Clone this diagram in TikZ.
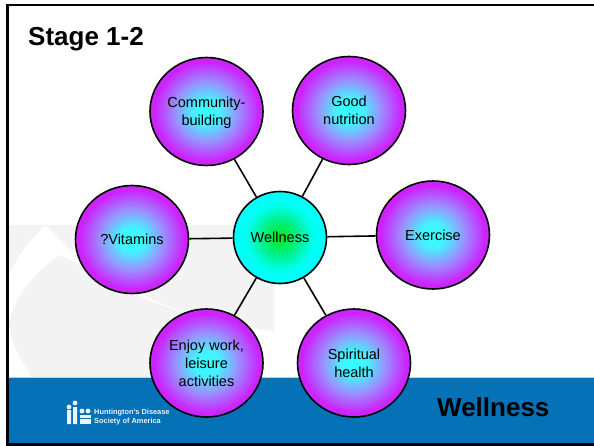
\documentclass[tikz,border=0pt]{standalone}
\usepackage{fontspec}
\setmainfont{Liberation Sans}
\usetikzlibrary{
	shapes.geometric
}
\definecolor{bandblue}{RGB}{5,113,182}
\definecolor{wmgray}{RGB}{243,243,243}
\definecolor{topicA}{RGB}{50,255,255}
\definecolor{topicB}{RGB}{70,240,255}
\definecolor{topicC}{RGB}{150,150,255}
\definecolor{topicD}{RGB}{205,35,255}
\definecolor{hubA}{RGB}{0,235,20}
\definecolor{hubB}{RGB}{0,240,130}
\definecolor{hubC}{RGB}{0,255,240}
\definecolor{hubD}{RGB}{0,255,255}
\pgfdeclareradialshading{topicball}{\pgfpoint{0bp}{0bp}}{
	color(0bp)=(topicA);
	color(6bp)=(topicB);
	color(13.5bp)=(topicC);
	color(23bp)=(topicD);
	color(50bp)=(topicD)
}
\pgfdeclareradialshading{hubball}{\pgfpoint{0bp}{0bp}}{
	color(0bp)=(hubA);
	color(9bp)=(hubB);
	color(18bp)=(hubC);
	color(25bp)=(hubD);
	color(50bp)=(hubD)
}
\tikzset{
	topic/.style={
		ellipse,
		draw=black,
		line width=1.6pt,
		shading=topicball,
		minimum width=113pt,
		minimum height=108pt,
		inner sep=0pt,
		align=center,
		text depth=0pt,
		font=\fontsize{14.5}{17.8}\selectfont
	},
	hub/.style={
		topic,
		shading=hubball,
		minimum width=93pt,
		minimum height=92pt
	},
	spoke/.style={
		line width=1.6pt
	},
	heading/.style={
		font=\fontsize{26}{30}\selectfont\bfseries
	},
	logopart/.style={
		fill=white!92!bandblue
	}
}

\begin{document}
\begin{tikzpicture}[x=1pt,y=-1pt] %%%%% WELLNESS SLIDE
	\useasboundingbox (0,0) rectangle (594,446);
	% watermark
	\fill [wmgray] (9,225) -- (274,225) -- (274,332) -- (205,318) -- (180,377) -- (32,377) .. controls (14,350) and (9,335) .. (9,320) -- cycle;
	\fill [white] (45,225) -- (67,247) -- (155,301) -- (200,318) -- (150,301) -- (60,255) .. controls (30,275) and (14,300) .. (9,322) -- (9,275) .. controls (18,255) and (30,240) .. (45,225) -- cycle;
	% band
	\fill [bandblue] (7,377) rectangle (594,444);
	\draw [white!70!bandblue, line width=.8pt] (7,377) -- (594,377);
	% frame
	\draw [line width=2.6pt] (594,5) -- (7.5,5) -- (7.5,444.5) -- (594,444.5);
	% logo
	\fill [logopart] (69,407) circle (2.4) (75,403) circle (2.4) (82,411) circle (2.4) (88,411) circle (2.4);
	\fill [logopart] (67,410) rectangle (71,424) (73,407) rectangle (77,424);
	\foreach \ly in {415,418.5,421}{
		\fill [logopart] (79.5,\ly) rectangle (90.5,\ly+2.6);
	}
	\node [text=white!92!bandblue, anchor=west, align=left, inner sep=0pt, font=\fontsize{7.4}{9}\selectfont\bfseries] (logotext) at (94,417.5) {Huntington's Disease\\Society of America};
	% circles
	\node [hub] (wellness) at (280,237.5) {Wellness};
	\node [topic] (community) at (206.5,111.5) {Community-\\building};
	\node [topic] (nutrition) at (349,110.5) {Good\\nutrition};
	\node [topic] (exercise) at (433,235) {Exercise};
	\node [topic] (spiritual) at (354,363) {Spiritual\\health};
	\node [topic] (enjoy) at (206.5,363) {Enjoy work,\\leisure\\activities};
	\node [topic] (vitamins) at (132,239.5) {?Vitamins};
	\foreach \topicname in {community,nutrition,exercise,spiritual,enjoy,vitamins}{
		\draw [spoke] (wellness) -- (\topicname);
	}
	% titles
	\node [heading, anchor=west, inner sep=0pt] (stage) at (28,39) {Stage 1-2};
	\node [heading, anchor=west, inner sep=0pt] (bandtitle) at (437,407) {Wellness};
\end{tikzpicture}
\end{document}
